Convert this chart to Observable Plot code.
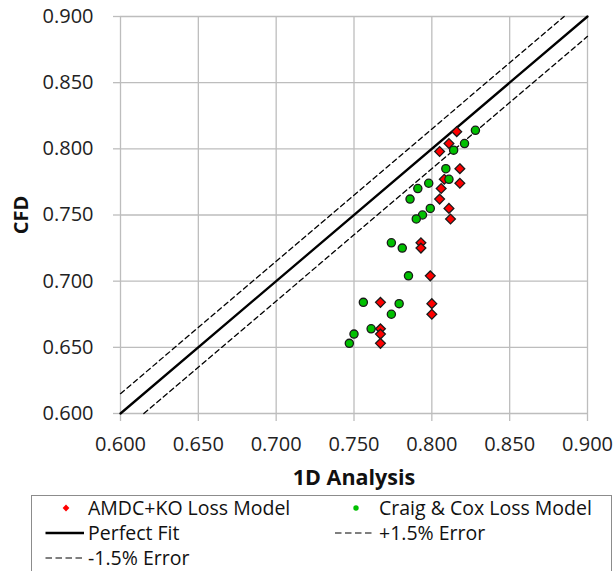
<!DOCTYPE html>
<html>
<head>
<meta charset="utf-8">
<script src="https://cdn.jsdelivr.net/npm/d3@7"></script>
<script src="https://cdn.jsdelivr.net/npm/@observablehq/plot@0.6"></script>
<style>
  html, body { margin: 0; padding: 0; background: #fff; }
  #chart svg { display: block; }
</style>
</head>
<body>
<div id="chart"></div>
<script>
// Axis ticks (both axes share the same range)
const xTicks = [0.600, 0.650, 0.700, 0.750, 0.800, 0.850, 0.900];
const yTicks = [0.600, 0.650, 0.700, 0.750, 0.800, 0.850, 0.900];

// AMDC+KO loss model: 1D analysis vs CFD
const amdcX = [0.816, 0.811, 0.805, 0.818, 0.808, 0.818, 0.806, 0.805, 0.811, 0.812,
               0.793, 0.793, 0.799, 0.767, 0.800, 0.800, 0.767, 0.767, 0.767];
const amdcY = [0.813, 0.804, 0.798, 0.785, 0.777, 0.774, 0.770, 0.762, 0.755, 0.747,
               0.729, 0.725, 0.704, 0.684, 0.683, 0.675, 0.664, 0.660, 0.653];

// Craig & Cox loss model: 1D analysis vs CFD
const craigX = [0.828, 0.821, 0.814, 0.809, 0.811, 0.798, 0.791, 0.786, 0.799, 0.794,
                0.790, 0.774, 0.781, 0.785, 0.756, 0.779, 0.774, 0.761, 0.750, 0.747];
const craigY = [0.814, 0.804, 0.799, 0.785, 0.777, 0.774, 0.770, 0.762, 0.755, 0.750,
                0.747, 0.729, 0.725, 0.704, 0.684, 0.683, 0.675, 0.664, 0.660, 0.653];

// Reference lines: y = x + offset
const refNames = ["Perfect Fit", "+1.5% Error", "-1.5% Error"];
const refOffsets = [0, 0.015, -0.015];

const domain = [xTicks[0], xTicks[xTicks.length - 1]];

const amdc = amdcX.map((x, i) => ({x, y: amdcY[i]}));
const craig = craigX.map((x, i) => ({x, y: craigY[i]}));

// Each reference line clipped to the square domain
const refLines = refOffsets.map((off, i) => {
  const x0 = Math.max(domain[0], domain[0] - off);
  const x1 = Math.min(domain[1], domain[1] - off);
  return [{x: x0, y: x0 + off, name: refNames[i]}, {x: x1, y: x1 + off, name: refNames[i]}];
});

const gridColor = "#bdbdbd";
const fmt = d3.format(".3f");

const plot = Plot.plot({
  width: 613,
  height: 495,
  marginLeft: 120,
  marginRight: 26,
  marginTop: 16,
  marginBottom: 82,
  style: {fontFamily: "'Open Sans', sans-serif", fontSize: "20px", color: "#222", background: "#fff"},
  x: {domain, ticks: xTicks},
  y: {domain, ticks: yTicks},
  marks: [
    Plot.gridX(xTicks, {stroke: gridColor, strokeOpacity: 1, strokeWidth: 1.3}),
    Plot.gridY(yTicks, {stroke: gridColor, strokeOpacity: 1, strokeWidth: 1.3}),
    Plot.axisX(xTicks, {tickFormat: fmt, tickSize: 8, tickPadding: 15, stroke: gridColor, strokeWidth: 1.3, fill: "#222", fontSize: 20, label: null}),
    Plot.axisY(yTicks, {tickFormat: fmt, tickSize: 7, tickPadding: 20, stroke: gridColor, strokeWidth: 1.3, fill: "#222", fontSize: 20, label: null}),
    Plot.line(refLines[0], {x: "x", y: "y", stroke: "#000", strokeWidth: 2.3}),
    Plot.line(refLines[1], {x: "x", y: "y", stroke: "#000", strokeWidth: 1.3, strokeDasharray: "5,3.5"}),
    Plot.line(refLines[2], {x: "x", y: "y", stroke: "#000", strokeWidth: 1.3, strokeDasharray: "5,3.5"}),
    Plot.dot(amdc, {x: "x", y: "y", symbol: "diamond2", r: 4.4, fill: "#ff0000", stroke: "#1a1a1a", strokeWidth: 1.3}),
    Plot.dot(craig, {x: "x", y: "y", symbol: "circle", r: 4.1, fill: "#00c000", stroke: "#1a1a1a", strokeWidth: 1.3}),
    Plot.text(["1D Analysis"], {frameAnchor: "bottom", dy: 71, fontWeight: "bold", fontSize: 21.5, fill: "#111"}),
    Plot.text(["CFD"], {frameAnchor: "left", dx: -99, rotate: -90, textAnchor: "middle", fontWeight: "bold", fontSize: 20, fill: "#111"})
  ]
});

const chart = document.getElementById("chart");
chart.appendChild(plot);

// Legend below the plot
const legendItems = [
  {label: "AMDC+KO Loss Model", kind: "diamond", col: 0, row: 0},
  {label: "Craig & Cox Loss Model", kind: "circle", col: 1, row: 0},
  {label: refNames[0], kind: "solid", col: 0, row: 1},
  {label: refNames[1], kind: "dash", col: 1, row: 1},
  {label: refNames[2], kind: "dash", col: 0, row: 2}
];

const lg = d3.create("svg")
  .attr("width", 613)
  .attr("height", 76)
  .style("font-family", "'Open Sans', sans-serif")
  .style("font-size", "19.5px");

lg.append("rect")
  .attr("x", 31.5).attr("y", 0.5)
  .attr("width", 580).attr("height", 90)
  .attr("fill", "#fff").attr("stroke", "#8c8c8c").attr("stroke-width", 1);

const colSym = [45.5, 335];
const colText = [88, 379];
const rowY = [13, 38, 63];

legendItems.forEach(d => {
  const sx = colSym[d.col], tx = colText[d.col], cy = rowY[d.row];
  const g = lg.append("g");
  if (d.kind === "diamond") {
    const h = 3.4, cx = tx - 22;
    g.append("path")
      .attr("d", `M${cx},${cy - h}L${cx + h},${cy}L${cx},${cy + h}L${cx - h},${cy}Z`)
      .attr("fill", "#ff0000");
  } else if (d.kind === "circle") {
    g.append("circle").attr("cx", tx - 23).attr("cy", cy).attr("r", 2.7).attr("fill", "#00c000");
  } else if (d.kind === "solid") {
    g.append("line").attr("x1", sx).attr("x2", tx - 4).attr("y1", cy).attr("y2", cy)
      .attr("stroke", "#000").attr("stroke-width", 2.3);
  } else {
    g.append("line").attr("x1", sx).attr("x2", tx - 4).attr("y1", cy).attr("y2", cy)
      .attr("stroke", "#000").attr("stroke-width", 1.2).attr("stroke-dasharray", "6.5,3.5");
  }
  g.append("text").attr("x", tx).attr("y", cy).attr("dy", "0.36em")
    .attr("fill", "#111").text(d.label);
});

chart.appendChild(lg.node());
</script>
</body>
</html>
